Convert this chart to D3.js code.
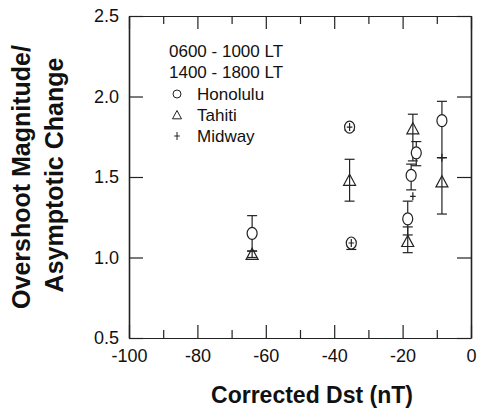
<!DOCTYPE html>
<html>
<head>
<meta charset="utf-8">
<script src="https://cdn.jsdelivr.net/npm/d3@7"></script>
<style>
    body { margin: 0; background: #fff; }
    text { font-family: 'Liberation Sans', Arial, sans-serif; fill: #111; }
    .axis path, .axis line { stroke: #222; stroke-width: 1.2; }
    .axis text { font-size: 18px; }
    .err { stroke: #222; stroke-width: 1.2; }
    .mark { fill: none; stroke: #222; stroke-width: 1.2; }
</style>
</head>
<body>
<div id="chart"></div>
<script>

// Honolulu (circles)
const honDst = [-64, -35.5, -35, -18.5, -17.5, -16, -8.5]
const honVal = [1.15, 1.81, 1.09, 1.24, 1.51, 1.65, 1.85]
const honLo = [1.04, 1.79, 1.05, 1.14, 1.42, 1.57, 1.62]
const honHi = [1.26, 1.82, 1.10, 1.35, 1.58, 1.72, 1.97]

// Tahiti (triangles)
const tahDst = [-64, -35.5, -18.5, -17, -8.5]
const tahVal = [1.02, 1.48, 1.10, 1.80, 1.47]
const tahLo = [1.00, 1.35, 1.03, 1.60, 1.27]
const tahHi = [1.04, 1.61, 1.19, 1.89, 1.62]

// Midway (plus)
const midDst = [-35.5, -35, -17, -8.5]
const midVal = [1.81, 1.09, 1.38, 1.62]

const xMajor = [-100, -80, -60, -40, -20, 0]
const xMinor = [-90, -70, -50, -30, -10]
const yTicks = [0.5, 1.0, 1.5, 2.0, 2.5]

const legendTimes = ['0600 - 1000 LT', '1400 - 1800 LT']
const legendStations = ['Honolulu', 'Tahiti', 'Midway']

const width = 482
const height = 408
const mLeft = 129, mRight = 471, mTop = 16, mBottom = 338

const svg = d3.select('#chart')
    .append('svg')
    .attr('width', width)
    .attr('height', height)

const xScale = d3.scaleLinear().domain([-100, 0]).range([mLeft, mRight])
const yScale = d3.scaleLinear().domain([0.5, 2.5]).range([mBottom, mTop])

// axes, ticks pointing inward
svg.append('g').attr('class', 'axis')
    .attr('transform', `translate(0,${mBottom})`)
    .call(d3.axisBottom(xScale).tickValues(xMajor).tickSizeInner(-13).tickSizeOuter(0).tickPadding(11).tickFormat((d) => String(d)))
svg.append('g').attr('class', 'axis')
    .attr('transform', `translate(0,${mBottom})`)
    .call(d3.axisBottom(xScale).tickValues(xMinor).tickSizeInner(-8).tickSizeOuter(0).tickFormat(''))
    .select('.domain').remove()

svg.append('g').attr('class', 'axis')
    .attr('transform', `translate(0,${mTop})`)
    .call(d3.axisTop(xScale).tickValues(xMajor).tickSizeInner(-13).tickSizeOuter(0).tickFormat(''))
svg.append('g').attr('class', 'axis')
    .attr('transform', `translate(0,${mTop})`)
    .call(d3.axisTop(xScale).tickValues(xMinor).tickSizeInner(-8).tickSizeOuter(0).tickFormat(''))
    .select('.domain').remove()

svg.append('g').attr('class', 'axis')
    .attr('transform', `translate(${mLeft},0)`)
    .call(d3.axisLeft(yScale).tickValues(yTicks).tickSizeInner(-14).tickSizeOuter(0).tickPadding(10).tickFormat(d3.format('.1f')))
    .select('.domain').style('stroke-width', 1.6)

svg.append('g').attr('class', 'axis')
    .attr('transform', `translate(${mRight},0)`)
    .call(d3.axisRight(yScale).tickValues(yTicks).tickSizeInner(-14).tickSizeOuter(0).tickFormat(''))
    .select('.domain').style('stroke-width', 1.6)

svg.selectAll('.axis .tick text').style('fill', '#111')

// error bars
const drawErrors = (dst, lo, hi) => {
    const rows = dst.map((d, i) => ({ x: d, lo: lo[i], hi: hi[i] }))
    const g = svg.append('g')
    g.selectAll('line.v')
        .data(rows)
        .join('line')
        .attr('class', 'err v')
        .attr('x1', (d) => xScale(d.x))
        .attr('x2', (d) => xScale(d.x))
        .attr('y1', (d) => yScale(d.lo))
        .attr('y2', (d) => yScale(d.hi))
    const caps = rows.flatMap((d) => [{ x: d.x, y: d.lo }, { x: d.x, y: d.hi }])
    g.selectAll('line.c')
        .data(caps)
        .join('line')
        .attr('class', 'err c')
        .attr('x1', (d) => xScale(d.x) - 5)
        .attr('x2', (d) => xScale(d.x) + 5)
        .attr('y1', (d) => yScale(d.y))
        .attr('y2', (d) => yScale(d.y))
}

drawErrors(honDst, honLo, honHi)
drawErrors(tahDst, tahLo, tahHi)

const triPath = (s) => `M0,${-s} L${s},${s * 0.85} L${-s},${s * 0.85} Z`
const plusPath = (s) => `M${-s * 0.7},0 H${s * 0.7} M0,${-s} V${s}`

svg.append('g').selectAll('ellipse')
    .data(honDst.map((d, i) => [d, honVal[i]]))
    .join('ellipse')
    .attr('class', 'mark')
    .attr('cx', (d) => xScale(d[0]))
    .attr('cy', (d) => yScale(d[1]))
    .attr('rx', 5)
    .attr('ry', 6)
    .style('fill', '#fff')

svg.append('g').selectAll('path')
    .data(tahDst.map((d, i) => [d, tahVal[i]]))
    .join('path')
    .attr('class', 'mark')
    .attr('d', triPath(6))
    .attr('transform', (d) => `translate(${xScale(d[0])},${yScale(d[1])})`)

svg.append('g').selectAll('path')
    .data(midDst.map((d, i) => [d, midVal[i]]))
    .join('path')
    .attr('class', 'mark')
    .attr('d', plusPath(4))
    .attr('transform', (d) => `translate(${xScale(d[0])},${yScale(d[1])})`)

// legend
const legend = svg.append('g').style('font-size', '17px')
legend.selectAll('text.time')
    .data(legendTimes)
    .join('text')
    .attr('class', 'time')
    .attr('x', 169)
    .attr('y', (d, i) => 57 + i * 21)
    .text((d) => d)
legend.selectAll('text.station')
    .data(legendStations)
    .join('text')
    .attr('class', 'station')
    .attr('x', 197)
    .attr('y', (d, i) => 100 + i * 21)
    .text((d) => d)

const legendSym = [
    (g) => g.append('circle').attr('r', 4),
    (g) => g.append('path').attr('d', triPath(4.5)),
    (g) => g.append('path').attr('d', plusPath(4))
]
legendSym.forEach((f, i) => {
    const g = legend.append('g')
        .attr('transform', `translate(177,${100 + i * 21 - 6})`)
    f(g).attr('class', 'mark').style('stroke-width', 1)
})

// titles
svg.append('text')
    .attr('x', 312)
    .attr('y', 403)
    .attr('text-anchor', 'middle')
    .style('font-size', '23px')
    .style('font-weight', 'bold')
    .text('Corrected Dst (nT)')

const yTitle = svg.append('text')
    .attr('transform', 'rotate(-90)')
    .attr('text-anchor', 'middle')
    .style('font-size', '25px')
    .style('font-weight', 'bold')
yTitle.append('tspan').attr('x', -177).attr('y', 30).text('Overshoot Magnitude/')
yTitle.append('tspan').attr('x', -175).attr('y', 63).text('Asymptotic Change')

</script>
</body>
</html>
